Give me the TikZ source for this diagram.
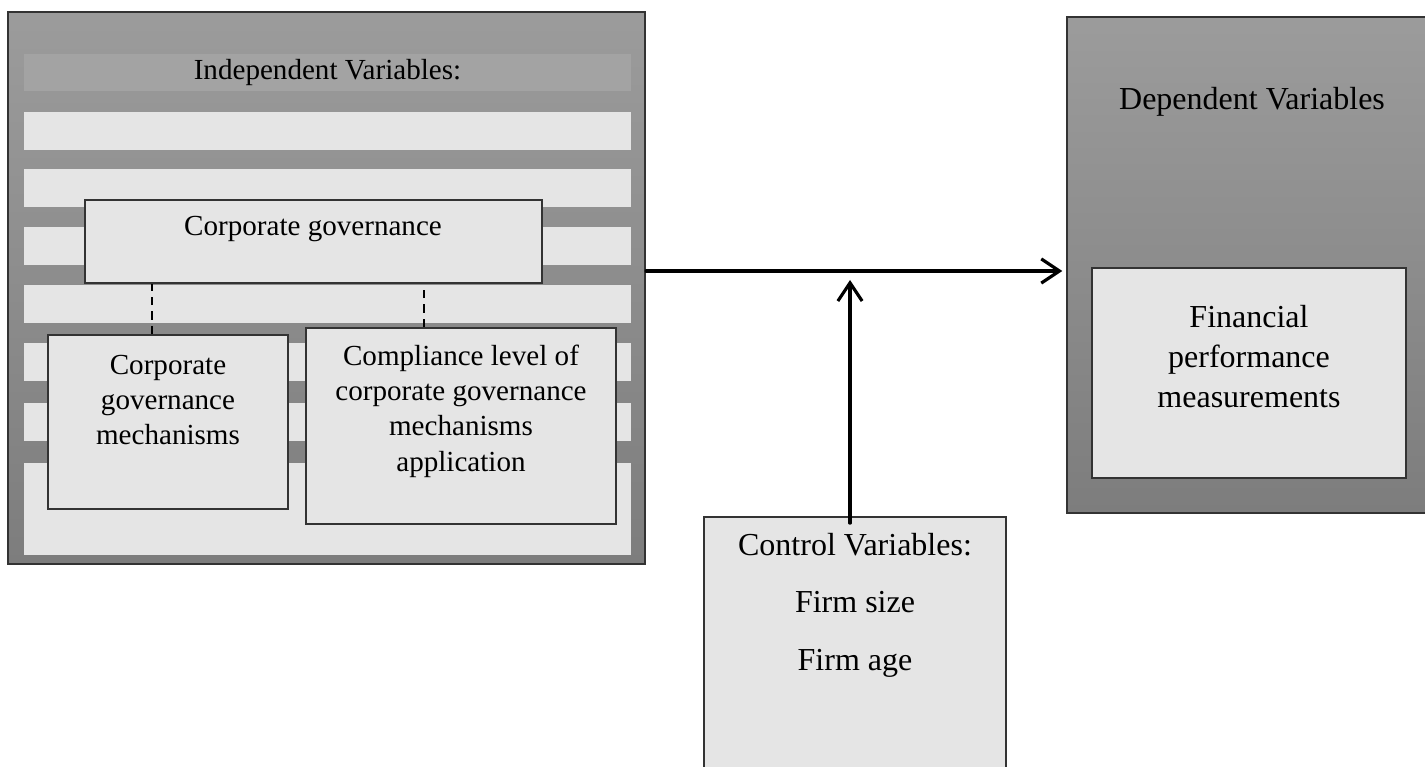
\documentclass[tikz,border=0pt]{standalone}
\usepackage{fontspec}
\setmainfont{Liberation Serif}
\usetikzlibrary{arrows.meta,fit,calc}

\definecolor{bgtop}{rgb}{0.61,0.61,0.61}
\definecolor{bgbot}{rgb}{0.49,0.49,0.49}
\definecolor{band}{rgb}{0.64,0.64,0.64}
\definecolor{lite}{rgb}{0.9,0.9,0.9}
\definecolor{edge}{rgb}{0.2,0.2,0.2}

\tikzset{
  frame/.style={draw=edge,line width=0.9pt,top color=bgtop,bottom color=bgbot,inner sep=0pt},
  box/.style={draw=edge,line width=0.7pt,fill=lite,inner sep=0pt},
  txt/.style={align=center,inner sep=0pt,font=\fontsize{12}{14.6}\selectfont},
  bigtxt/.style={align=center,inner sep=0pt,font=\fontsize{13.2}{16.5}\selectfont},
  flow/.style={line width=1.3pt,line cap=round,line join=round,-{Straight Barb[length=7.5pt,width=10pt]}},
  link/.style={dash pattern=on 3.5pt off 2.5pt,line width=0.8pt},
}

\begin{document}
\begin{tikzpicture}[x=0.0145cm,y=-0.0145cm]
\useasboundingbox (0,0) rectangle (1425,767);

% independent variables
\node[frame,fit={(8,12) (645,564)}] (indep) {};
\node[fill=band,inner sep=0pt,fit={(24,54) (631,91)}] (band) {};
\node[txt] (indeptxt) at (band) {Independent Variables:};
\foreach \y in {112,169,227,285,343,403}
  \fill[lite] (24,\y) rectangle (631,\y+38);
\fill[lite] (24,463) rectangle (631,555);

\node[box,fit={(85,200) (542,283)}] (cg) {};
\node[txt] (cgtxt) at (313,229) {Corporate governance};
\node[box,fit={(48,335) (288,509)}] (mech) {};
\node[txt] (mechtxt) at (168,400) {Corporate\\governance\\mechanisms};
\node[box,fit={(306,328) (616,524)}] (comp) {};
\node[txt] (comptxt) at (461,411) {Compliance level of\\corporate governance\\mechanisms\\application};

\path ($(mech.north west)!0.433!(mech.north east)$) coordinate (m1);
\path ($(comp.north west)!0.38!(comp.north east)$) coordinate (m2);
\draw[link] (m1) -- (m1 |- cg.south);
\draw[link] (m2) -- (m2 |- cg.south);

% dependent variables
\node[frame,fit={(1067,17) (1437,513)}] (dep) {};
\node[bigtxt] (deptxt) at (1252,102) {Dependent Variables};
\node[box,fit={(1092,268) (1406,478)}] (fin) {};
\node[bigtxt] (fintxt) at (1249,357) {Financial\\performance\\measurements};

% control variables
\node[box,fit={(704,517) (1006,800)}] (ctrl) {};
\node[bigtxt,font=\fontsize{13.2}{23.7}\selectfont] (ctrltxt) at (855,605) {Control Variables:\\Firm size\\Firm age};

% arrows
\coordinate (join) at (850,271);
\coordinate (hit) at (850,280);
\draw[flow,shorten >=1.5pt] (indep.east |- join) -- (dep.west |- join);
\draw[flow] ($(ctrl.north -| hit)+(0,7)$) -- (hit);
\end{tikzpicture}
\end{document}
